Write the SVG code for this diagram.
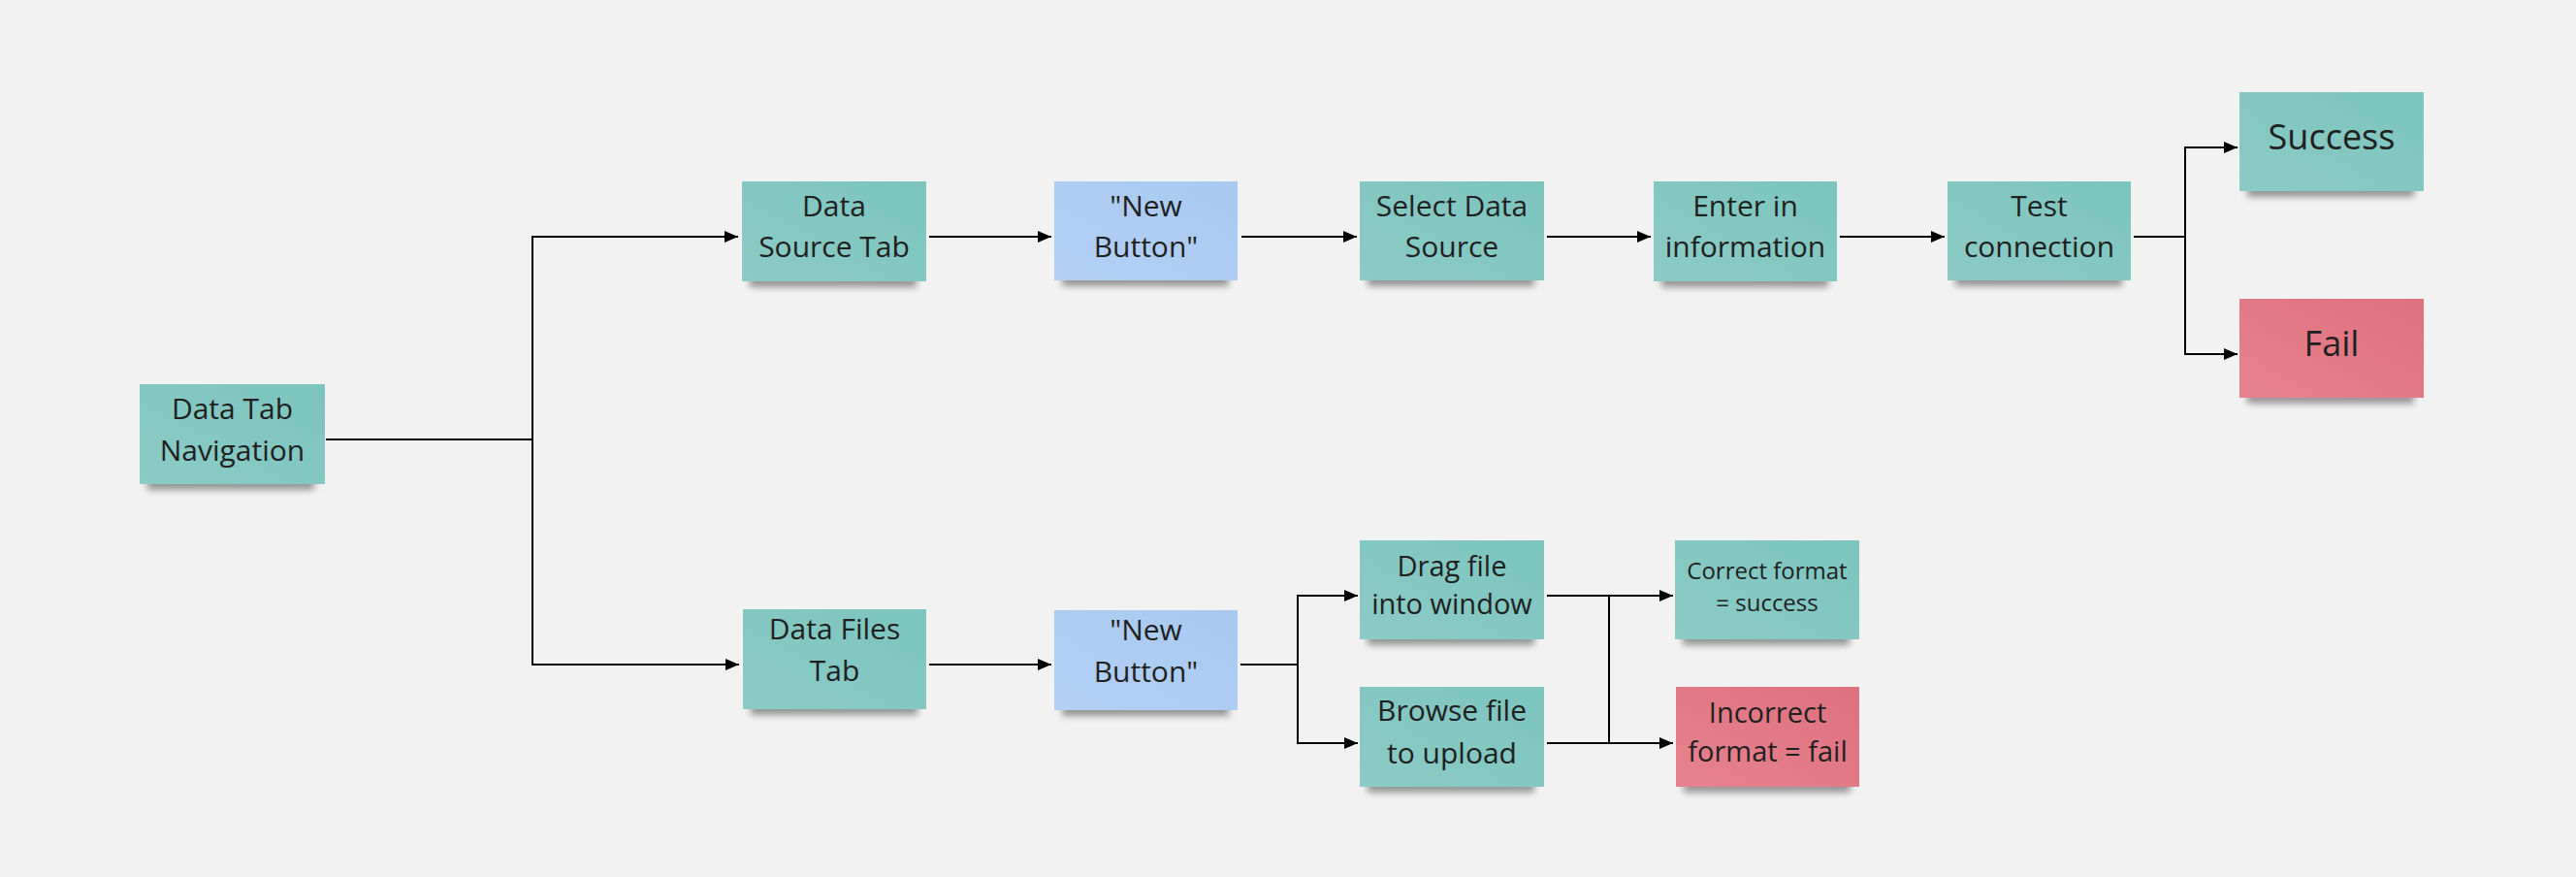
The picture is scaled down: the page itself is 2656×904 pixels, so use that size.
<svg xmlns="http://www.w3.org/2000/svg" width="2656" height="904" viewBox="0 0 2656 904">
<style>
.t{font-family:"Open Sans","Noto Sans","Liberation Sans",sans-serif;font-size:30px;fill:#1f2121;text-anchor:middle}
.big{font-size:36px}
.sm{font-size:24px}
.m29{font-size:29px}
.sh{fill:#000;opacity:.38;filter:url(#blur)}
.teal{fill:url(#gTeal)}
.blue{fill:url(#gBlue)}
.pink{fill:url(#gPink)}
.c{fill:none;stroke:#000;stroke-width:2}
</style>
<defs>
<filter id="blur" x="-20%" y="-100%" width="140%" height="300%"><feGaussianBlur stdDeviation="3.5"/></filter>
<linearGradient id="gTeal" x1="1" y1="0" x2="0" y2="1"><stop offset="0" stop-color="#7cc4be"/><stop offset="1" stop-color="#8ccbc6"/></linearGradient>
<linearGradient id="gBlue" x1="1" y1="0" x2="0" y2="1"><stop offset="0" stop-color="#a9c9f0"/><stop offset="1" stop-color="#b3d0f4"/></linearGradient>
<linearGradient id="gPink" x1="1" y1="0" x2="0" y2="1"><stop offset="0" stop-color="#de717e"/><stop offset="1" stop-color="#e6838e"/></linearGradient>
<marker id="arr" markerUnits="userSpaceOnUse" markerWidth="14" markerHeight="12" refX="14" refY="6" orient="auto"><path d="M0,0 L14,6 L0,12 z" fill="#000"/></marker>
</defs>
<rect width="2656" height="904" fill="#f2f2f2"/>

<g id="connectors">
<path class="c" d="M336 453 H549 V244 H761" marker-end="url(#arr)"/>
<path class="c" d="M549 453 V685 H762" marker-end="url(#arr)"/>
<path class="c" d="M958 244 H1084" marker-end="url(#arr)"/>
<path class="c" d="M1280 244 H1399" marker-end="url(#arr)"/>
<path class="c" d="M1595 244 H1702" marker-end="url(#arr)"/>
<path class="c" d="M1897 244 H2005" marker-end="url(#arr)"/>
<path class="c" d="M2200 244 H2253 V152 H2307" marker-end="url(#arr)"/>
<path class="c" d="M2253 244 V365 H2307" marker-end="url(#arr)"/>
<path class="c" d="M958 685 H1084" marker-end="url(#arr)"/>
<path class="c" d="M1279 685 H1338 V614 H1400" marker-end="url(#arr)"/>
<path class="c" d="M1338 685 V766 H1400" marker-end="url(#arr)"/>
<path class="c" d="M1595 614 H1725" marker-end="url(#arr)"/>
<path class="c" d="M1595 766 H1725" marker-end="url(#arr)"/>
<path class="c" d="M1659 614 V766"/>
</g>

<g id="nav">
<rect class="sh" x="152" y="491" width="172" height="14"/>
<rect class="teal" x="144" y="396" width="191" height="103"/>
<text class="t" x="239.5" y="431.5">Data Tab</text>
<text class="t" x="239.5" y="475">Navigation</text>
</g>

<g id="data-source-tab">
<rect class="sh" x="773" y="282" width="172" height="14"/>
<rect class="teal" x="765" y="187" width="190" height="103"/>
<text class="t" x="860" y="222.5">Data</text>
<text class="t" x="860" y="265">Source Tab</text>
</g>

<g id="new-button-1">
<rect class="sh" x="1095" y="281" width="172" height="14"/>
<rect class="blue" x="1087" y="187" width="189" height="102"/>
<text class="t" x="1181.5" y="222.5">"New</text>
<text class="t" x="1181.5" y="265">Button"</text>
</g>

<g id="select-data-source">
<rect class="sh" x="1410" y="281" width="172" height="14"/>
<rect class="teal" x="1402" y="187" width="190" height="102"/>
<text class="t" x="1497" y="222.5">Select Data</text>
<text class="t" x="1497" y="265">Source</text>
</g>

<g id="enter-info">
<rect class="sh" x="1713" y="282" width="172" height="14"/>
<rect class="teal" x="1705" y="187" width="189" height="103"/>
<text class="t" x="1799.5" y="222.5">Enter in</text>
<text class="t" x="1799.5" y="265">information</text>
</g>

<g id="test-connection">
<rect class="sh" x="2016" y="281" width="172" height="14"/>
<rect class="teal" x="2008" y="187" width="189" height="102"/>
<text class="t" x="2102.5" y="222.5">Test</text>
<text class="t" x="2102.5" y="265">connection</text>
</g>

<g id="success">
<rect class="sh" x="2317" y="189" width="172" height="14"/>
<rect class="teal" x="2309" y="95" width="190" height="102"/>
<text class="t big" x="2404" y="154">Success</text>
</g>

<g id="fail">
<rect class="sh" x="2317" y="402" width="172" height="14"/>
<rect class="pink" x="2309" y="308" width="190" height="102"/>
<text class="t big" x="2404" y="367">Fail</text>
</g>

<g id="data-files-tab">
<rect class="sh" x="774" y="723" width="172" height="14"/>
<rect class="teal" x="766" y="628" width="189" height="103"/>
<text class="t" x="860.5" y="659">Data Files</text>
<text class="t" x="860.5" y="702">Tab</text>
</g>

<g id="new-button-2">
<rect class="sh" x="1095" y="724" width="172" height="14"/>
<rect class="blue" x="1087" y="629" width="189" height="103"/>
<text class="t" x="1181.5" y="660">"New</text>
<text class="t" x="1181.5" y="703">Button"</text>
</g>

<g id="drag-file">
<rect class="sh" x="1410" y="651" width="172" height="14"/>
<rect class="teal" x="1402" y="557" width="190" height="102"/>
<text class="t m29" x="1497" y="594">Drag file</text>
<text class="t m29" x="1497" y="633">into window</text>
</g>

<g id="browse-file">
<rect class="sh" x="1410" y="803" width="172" height="14"/>
<rect class="teal" x="1402" y="708" width="190" height="103"/>
<text class="t" x="1497" y="743">Browse file</text>
<text class="t" x="1497" y="786.5">to upload</text>
</g>

<g id="correct-format">
<rect class="sh" x="1735" y="651" width="172" height="14"/>
<rect class="teal" x="1727" y="557" width="190" height="102"/>
<text class="t sm" x="1822" y="596.5">Correct format</text>
<text class="t sm" x="1822" y="630">= success</text>
</g>

<g id="incorrect-format">
<rect class="sh" x="1736" y="803" width="172" height="14"/>
<rect class="pink" x="1728" y="708" width="189" height="103"/>
<text class="t m29" x="1822.5" y="745">Incorrect</text>
<text class="t m29" x="1822.5" y="785">format = fail</text>
</g>
</svg>
